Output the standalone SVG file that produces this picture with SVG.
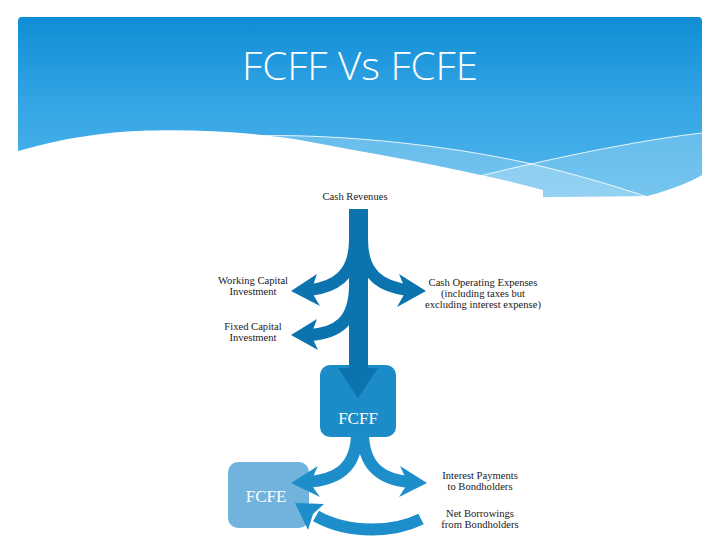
<svg xmlns="http://www.w3.org/2000/svg" width="720" height="540" viewBox="0 0 720 540">
<defs>
<linearGradient id="hdr" x1="0" y1="17" x2="0" y2="197" gradientUnits="userSpaceOnUse">
<stop offset="0" stop-color="#0f8dd6"/>
<stop offset="0.5" stop-color="#36a6e5"/>
<stop offset="1" stop-color="#4fb5eb"/>
</linearGradient>
<style>
.lbl{font-family:"Liberation Serif","DejaVu Serif",serif;font-size:10.6px;fill:#1a1a1a;text-anchor:middle}
.box{font-family:"Liberation Serif","DejaVu Serif",serif;font-size:17px;fill:#ffffff;text-anchor:middle}
.dk{fill:#0b74ae}
.dks{fill:none;stroke:#0b74ae;stroke-width:12}
.lt{fill:#1d8ec9}
.lts{fill:none;stroke:#1d8ec9;stroke-width:12}
.wl{fill:none;stroke:#ffffff;stroke-width:1;opacity:0.85}
</style>
</defs>
<rect width="720" height="540" fill="#ffffff"/>
<g id="header">
<path d="M18,21 Q18,17 22,17 H698 Q702,17 702,21 V175 C690,182 670,190 647,196 L543,197 L543,190 C470,170 380,155 300,140 C240,130 160,128 110,133 C70,137 40,145 18,151 Z" fill="url(#hdr)"/>
<path d="M233,137 C300,132 420,140 523,162 C580,175 620,188 645,196 L543,197 L543,190 C470,170 380,155 300,140 Z" fill="#ffffff" opacity="0.22"/>
<path d="M440,186 C540,160 640,140 702,133 V175 C690,182 670,190 647,196 L543,197 L543,190 Z" fill="#ffffff" opacity="0.22"/>
<path class="wl" d="M233,137 C300,132 420,140 523,162 C580,175 620,188 648,197"/>
<path class="wl" d="M440,186 C540,160 640,140 702,133"/>
<text x="360" y="80" font-family="'Open Sans','DejaVu Sans',sans-serif" font-weight="300" font-size="38" fill="#ffffff" text-anchor="middle" textLength="236" lengthAdjust="spacingAndGlyphs">FCFF Vs FCFE</text>
</g>
<g id="fcfe">
<rect x="228" y="462" width="81" height="66" rx="10" fill="#72b3de"/>
<text class="box" x="266" y="502">FCFE</text>
</g>
<g id="fcff">
<rect x="320" y="365" width="76" height="72" rx="10" fill="#1b8cc7"/>
</g>
<g id="connectors">
<path class="dks" d="M355,240 C355,275 335,287 310,290"/>
<polygon class="dk" points="291,291 317,274 311,291 320,306"/>
<path class="dks" d="M362,240 C362,275 382,287 408,290"/>
<polygon class="dk" points="426,291 399,274 406,291 397,307"/>
<path class="dks" d="M355,285 C355,322 337,333 310,335"/>
<polygon class="dk" points="291,335 317,319 311,335 318,350"/>
<rect class="dk" x="349" y="209" width="19" height="161"/>
<polygon class="dk" points="338,368 378,368 358,398"/>
<path class="lts" d="M357,432 C357,470 335,480 307,482"/>
<polygon class="lt" points="291,483 318,466 310,483 320,497"/>
<path class="lts" d="M363,432 C363,470 385,480 410,482"/>
<polygon class="lt" points="427,483 400,466 408,483 399,497"/>
<path class="lts" d="M421,519 C395,532 350,535 316,516" stroke-width="14"/>
<polygon class="lt" points="295,503 324,504 313,514 308,530"/>
</g>
<g id="fcff-label">
<text class="box" x="358" y="424">FCFF</text>
</g>
<g id="labels">
<text class="lbl" x="355" y="200">Cash Revenues</text>
<text class="lbl" x="253" y="284">Working Capital</text>
<text class="lbl" x="253" y="295">Investment</text>
<text class="lbl" x="253" y="330">Fixed Capital</text>
<text class="lbl" x="253" y="341">Investment</text>
<text class="lbl" x="483" y="286">Cash Operating Expenses</text>
<text class="lbl" x="483" y="297">(including taxes but</text>
<text class="lbl" x="483" y="308">excluding interest expense)</text>
<text class="lbl" x="480" y="479">Interest Payments</text>
<text class="lbl" x="480" y="490">to Bondholders</text>
<text class="lbl" x="480" y="517">Net Borrowings</text>
<text class="lbl" x="480" y="528">from Bondholders</text>
</g>
</svg>
